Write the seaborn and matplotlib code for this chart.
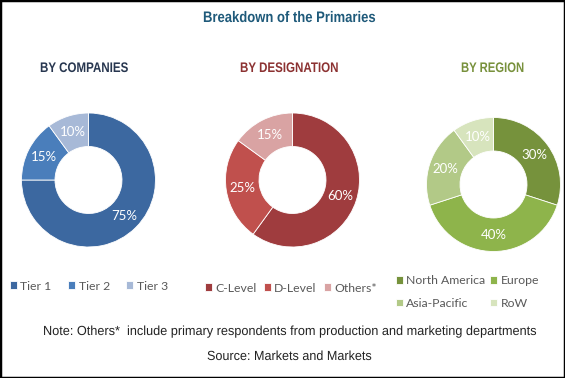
import matplotlib
matplotlib.use("Agg")
import matplotlib.pyplot as plt
import seaborn as sns
from matplotlib.patches import Rectangle
from matplotlib.patheffects import AbstractPathEffect
from matplotlib.transforms import Affine2D

# ---- data ----
title = "Breakdown of the Primaries"
company_labels = ["Tier 1", "Tier 2", "Tier 3"]
company_values = [75, 15, 10]
designation_labels = ["C-Level", "D-Level", "Others*"]
designation_values = [60, 25, 15]
region_labels = ["North America", "Europe", "Asia-Pacific", "RoW"]
region_values = [30, 40, 20, 10]
subtitles = ["BY COMPANIES", "BY DESIGNATION", "BY REGION"]
note = "Note: Others*  include primary respondents from production and marketing departments"
source = "Source: Markets and Markets"

company_colors = ["#3c68a0", "#4a7ebb", "#a7b9d7"]
designation_colors = ["#9f3c3e", "#c0504d", "#d9a3a3"]
region_colors = ["#76923c", "#8eb44b", "#b2c987", "#d7e4bd"]
subtitle_colors = ["#283750", "#8c3232", "#78913c"]

sns.set_theme(style="white")
plt.rcParams["font.family"] = ["Lato", "DejaVu Sans"]
NARROW = ["Liberation Sans", "DejaVu Sans"]

W, H = 565, 378
fig = plt.figure(figsize=(W / 100, H / 100), dpi=100)
fig.patch.set_facecolor("white")


def fx(x):
    return x / W


def fy(y):
    return 1 - y / H


class Condensed(AbstractPathEffect):
    """Horizontally squeeze glyphs about the text's left edge."""

    def __init__(self, sx):
        super().__init__()
        self.sx = sx

    def draw_path(self, renderer, gc, tpath, affine, rgbFace=None):
        renderer.draw_path(gc, tpath, Affine2D().scale(self.sx, 1.0) + affine, rgbFace)


R = 67
centers = [(88.5, 180), (292.5, 180), (493.5, 184.5)]
datasets = [
    (company_values, company_colors),
    (designation_values, designation_colors),
    (region_values, region_colors),
]
all_wedges = []
for (cx, cy), (vals, cols) in zip(centers, datasets):
    ax = fig.add_axes([fx(cx - R), fy(cy + R), 2 * R / W, 2 * R / H])
    wedges, _, autotexts = ax.pie(
        vals, colors=cols, startangle=90, counterclock=False, radius=1,
        autopct=lambda p: f"{p:.0f}%", pctdistance=0.75,
        wedgeprops=dict(width=0.5, edgecolor="white", linewidth=0.6),
        textprops=dict(color="white", fontsize=9.5, family=["Lato", "DejaVu Sans"]),
    )
    ax.set_xlim(-1, 1)
    ax.set_ylim(-1, 1)
    ax.set_aspect("equal")
    ax.axis("off")
    all_wedges.append(wedges)

renderer = fig.canvas.get_renderer()


def narrow_text(left, right, y, s, size, color, weight="normal"):
    t = fig.text(fx(left), fy(y), s, ha="left", va="center", fontsize=size,
                 fontweight=weight, color=color, family=NARROW)
    w = t.get_window_extent(renderer).width
    t.set_path_effects([Condensed((right - left) / w)])
    return t


narrow_text(203, 376, 18, title, 11, "#1f5a7a", "bold")
sub_spans = [(40, 128), (240, 338), (461, 524)]
for (l, r), s, c in zip(sub_spans, subtitles, subtitle_colors):
    narrow_text(l, r, 68, s, 10, c, "bold")

leg_kw = dict(frameon=False, loc="center left", borderpad=0, borderaxespad=0,
              handlelength=0.55, handleheight=0.55, handletextpad=0.3,
              prop={"family": ["Lato", "DejaVu Sans"], "size": 8.8})

l1 = fig.legend(all_wedges[0], company_labels, ncol=3, columnspacing=1.35,
                bbox_to_anchor=(fx(10), fy(286)), **leg_kw)
l2 = fig.legend(all_wedges[1], designation_labels, ncol=3, columnspacing=0.6,
                bbox_to_anchor=(fx(205), fy(288)), **leg_kw)
w3 = all_wedges[2]
l3 = fig.legend([w3[0], w3[2], w3[1], w3[3]],
                [region_labels[0], region_labels[2], region_labels[1], region_labels[3]],
                ncol=2, columnspacing=0.4, labelspacing=0.95,
                bbox_to_anchor=(fx(396), fy(292)), **leg_kw)
for lg in (l1, l2, l3):
    for t in lg.get_texts():
        t.set_color("#595959")

narrow_text(43, 537, 332, note, 9.5, "#222222")
narrow_text(207, 372, 357, source, 9.5, "#222222")

fig.add_artist(Rectangle((0, 0), 1, 1, transform=fig.transFigure, fill=False,
                         edgecolor="black", linewidth=2.5))

fig.savefig("out.png", dpi=100, facecolor="white")
